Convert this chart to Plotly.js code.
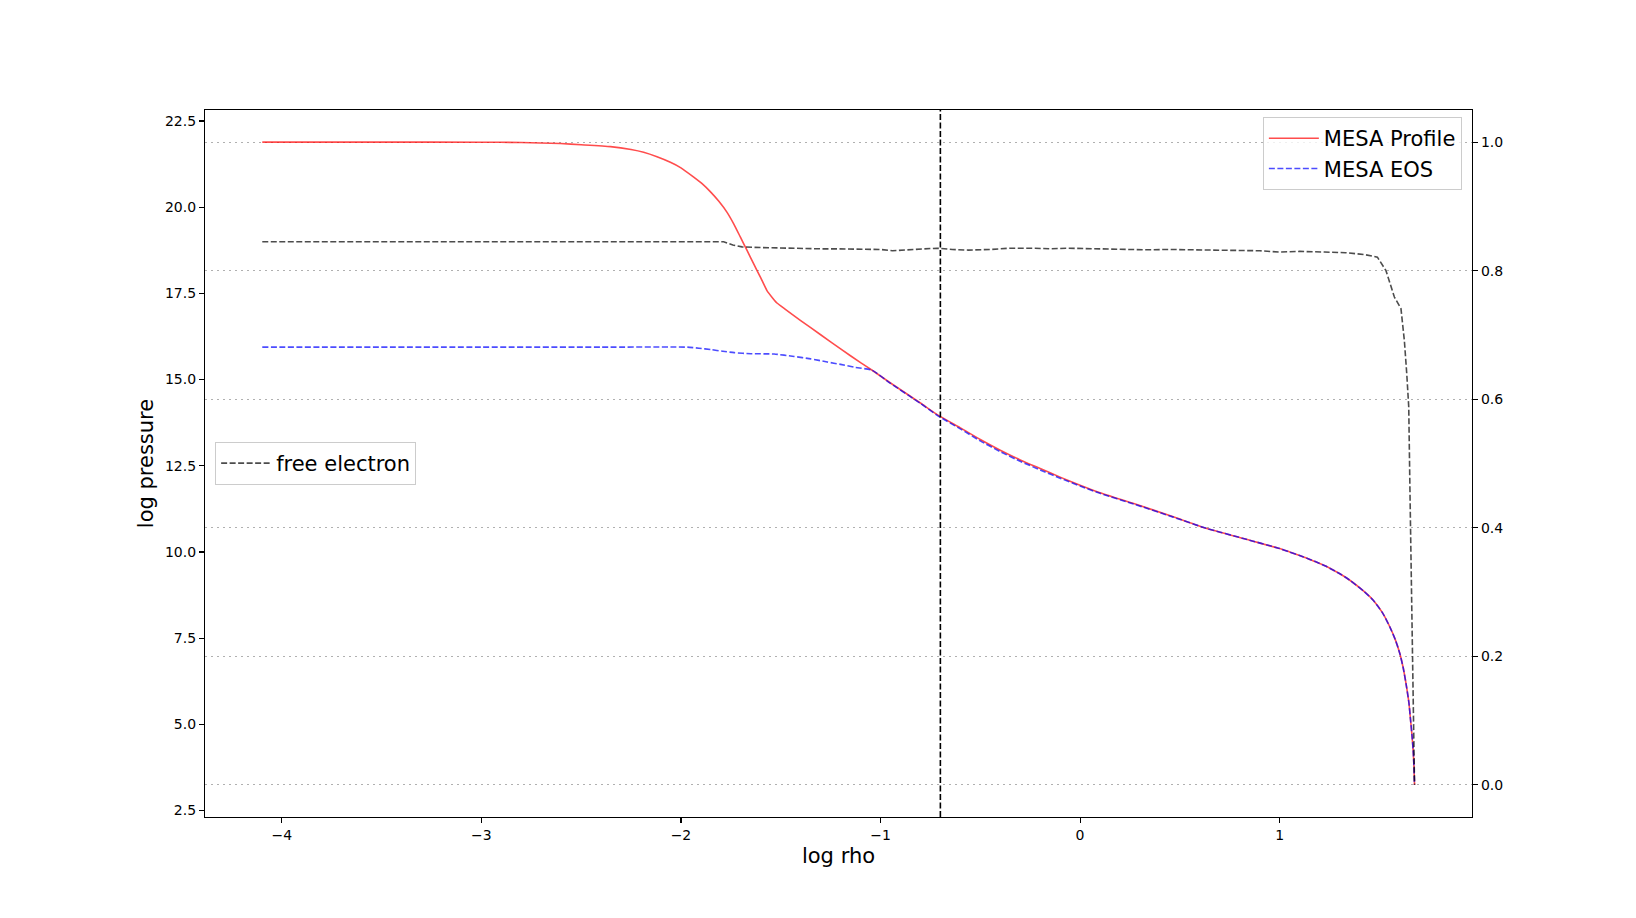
<!DOCTYPE html>
<html>
<head>
<meta charset="utf-8">
<script src="https://cdn.plot.ly/plotly-3.0.1.min.js"></script>
<style>
  html, body { margin: 0; padding: 0; background: #ffffff; }
  #chart { width: 1636px; height: 918px; }
</style>
</head>
<body>
<div id="chart"></div>
<script>
// MESA Profile: log rho vs log pressure
var profileLogRho = [-4.098, -3.5, -3.0, -2.8, -2.604, -2.5, -2.353, -2.25, -2.187, -2.12, -2.053, -2.0,
  -1.936, -1.89, -1.853, -1.81, -1.769, -1.735, -1.702, -1.67, -1.636, -1.6, -1.569, -1.54, -1.519,
  -1.48, -1.4, -1.3, -1.2, -1.1, -1.042, -0.95, -0.8, -0.71, -0.6, -0.5, -0.4, -0.3, -0.2, -0.1, 0.0,
  0.1, 0.269, 0.467, 0.636, 0.818, 1.0, 1.05, 1.1, 1.14, 1.184, 1.23, 1.27, 1.31, 1.352, 1.42, 1.469,
  1.515, 1.552, 1.58, 1.602, 1.62, 1.636, 1.648, 1.656, 1.663, 1.669, 1.673, 1.676];
var profileLogP = [21.886, 21.886, 21.884, 21.876, 21.845, 21.81, 21.755, 21.67, 21.59, 21.46, 21.30, 21.14,
  20.87, 20.66, 20.45, 20.17, 19.85, 19.51, 19.13, 18.76, 18.36, 17.95, 17.58, 17.36, 17.22,
  17.05, 16.71, 16.30, 15.89, 15.49, 15.27, 14.90, 14.32, 13.96, 13.60, 13.26, 12.95, 12.67, 12.42, 12.17, 11.935,
  11.72, 11.405, 11.02, 10.68, 10.39, 10.10, 10.00, 9.90, 9.81, 9.71, 9.59, 9.47, 9.34, 9.18, 8.87, 8.60,
  8.24, 7.83, 7.45, 7.06, 6.62, 6.09, 5.62, 5.13, 4.70, 4.26, 3.80, 3.245];

// MESA EOS: log rho vs log pressure
var eosLogRho = [-4.098, -3.0, -2.4, -1.967, -1.91, -1.85, -1.79, -1.733, -1.65, -1.533, -1.433, -1.35,
  -1.267, -1.2, -1.133, -1.042, -0.95, -0.8, -0.71, -0.6, -0.5, -0.4, -0.3, -0.2, -0.1, 0.0,
  0.1, 0.269, 0.467, 0.636, 0.818, 1.0, 1.05, 1.1, 1.14, 1.184, 1.23, 1.27, 1.31, 1.352, 1.42, 1.469,
  1.515, 1.552, 1.58, 1.602, 1.62, 1.636, 1.648, 1.656, 1.663, 1.669, 1.673, 1.676];
var eosLogP = [15.94, 15.94, 15.94, 15.94, 15.91, 15.87, 15.82, 15.78, 15.75, 15.74, 15.67, 15.60,
  15.51, 15.44, 15.36, 15.27, 14.89, 14.31, 13.94, 13.57, 13.22, 12.91, 12.63, 12.38, 12.14, 11.91,
  11.70, 11.39, 11.01, 10.68, 10.39, 10.10, 10.00, 9.90, 9.81, 9.71, 9.59, 9.47, 9.34, 9.18, 8.87, 8.60,
  8.24, 7.83, 7.45, 7.06, 6.62, 6.09, 5.62, 5.13, 4.70, 4.26, 3.80, 3.245];

// free electron fraction (right axis)
var freeLogRho = [-4.098, -2.5, -1.9, -1.786, -1.74, -1.694, -1.6, -1.5, -1.4, -1.3, -1.23, -1.1, -1.0,
  -0.94, -0.85, -0.717, -0.64, -0.56, -0.45, -0.35, -0.226, -0.15, -0.07, 0.05, 0.15, 0.332, 0.45,
  0.6, 0.779, 0.9, 1.0, 1.1, 1.225, 1.33, 1.426, 1.47, 1.49, 1.533, 1.575, 1.608, 1.625, 1.637,
  1.647, 1.653, 1.657, 1.662, 1.667, 1.671, 1.676];
var freeElectron = [0.845, 0.845, 0.845, 0.845, 0.840, 0.837, 0.836, 0.835, 0.835, 0.834, 0.834, 0.834, 0.833,
  0.831, 0.833, 0.835, 0.833, 0.832, 0.833, 0.835, 0.835, 0.834, 0.835, 0.834, 0.834, 0.8325, 0.833,
  0.832, 0.831, 0.831, 0.829, 0.830, 0.829, 0.828, 0.825, 0.823, 0.821, 0.800, 0.759, 0.741, 0.6915, 0.640,
  0.588, 0.46, 0.38, 0.28, 0.20, 0.10, 0.0];

var markerLogRho = -0.7;

var seriesNames = ['MESA Profile', 'MESA EOS', 'free electron'];

var font = "'DejaVu Sans', 'Liberation Sans', sans-serif";

var traces = [
  {
    x: profileLogRho, y: profileLogP, name: seriesNames[0], type: 'scatter', mode: 'lines',
    line: {color: 'rgba(255,0,0,0.7)', width: 1.6, shape: 'spline', smoothing: 0.5},
    xaxis: 'x', yaxis: 'y', legend: 'legend'
  },
  {
    x: eosLogRho, y: eosLogP, name: seriesNames[1], type: 'scatter', mode: 'lines',
    line: {color: 'rgba(0,0,255,0.7)', width: 1.6, dash: '6px,2.5px', shape: 'spline', smoothing: 0.5},
    xaxis: 'x', yaxis: 'y', legend: 'legend'
  },
  {
    x: freeLogRho, y: freeElectron, name: seriesNames[2], type: 'scatter', mode: 'lines',
    line: {color: 'rgba(0,0,0,0.7)', width: 1.6, dash: '6px,2.5px'}, xaxis: 'x', yaxis: 'y2', legend: 'legend2'
  }
];

var layout = {
  width: 1636, height: 918,
  paper_bgcolor: '#ffffff', plot_bgcolor: '#ffffff',
  margin: {l: 205, r: 164, t: 110, b: 101},
  font: {family: font, size: 14, color: '#000000'},
  showlegend: true,
  xaxis: {
    range: [-4.385, 1.964], tickmode: 'linear', tick0: -4, dtick: 1,
    showgrid: false, zeroline: false, showline: true, mirror: true,
    linecolor: '#000000', linewidth: 1.1, ticks: 'outside', ticklen: 5, tickwidth: 1.1, tickcolor: '#000000',
    tickfont: {family: font, size: 14, color: '#000000'},
    title: {text: 'log rho', font: {family: font, size: 21, color: '#000000'}, standoff: 6},
    automargin: false
  },
  yaxis: {
    range: [2.313, 22.818], tickmode: 'linear', tick0: 2.5, dtick: 2.5, tickformat: '.1f',
    showgrid: false, zeroline: false, showline: true, mirror: false,
    linecolor: '#000000', linewidth: 1.1, ticks: 'outside', ticklen: 5, tickwidth: 1.1, tickcolor: '#000000',
    tickfont: {family: font, size: 14, color: '#000000'},
    title: {text: 'log pressure', font: {family: font, size: 21, color: '#000000'}, standoff: 5},
    automargin: false
  },
  yaxis2: {
    overlaying: 'y', side: 'right', anchor: 'x',
    range: [-0.05, 1.05], tickmode: 'linear', tick0: 0, dtick: 0.2, tickformat: '.1f',
    showgrid: true, gridcolor: '#b0b0b0', gridwidth: 1.1, griddash: '2px,4px',
    zeroline: false, showline: true,
    linecolor: '#000000', linewidth: 1.1, ticks: 'outside', ticklen: 5, tickwidth: 1.1, tickcolor: '#000000',
    tickfont: {family: font, size: 14, color: '#000000'},
    automargin: false
  },
  legend: {
    x: 0.992, y: 0.99, xanchor: 'right', yanchor: 'top',
    bgcolor: 'rgba(255,255,255,0.8)', bordercolor: '#cccccc', borderwidth: 1,
    font: {family: font, size: 21, color: '#000000'}, itemwidth: 50
  },
  legend2: {
    x: 0.008, y: 0.5, xanchor: 'left', yanchor: 'middle',
    bgcolor: 'rgba(255,255,255,0.8)', bordercolor: '#cccccc', borderwidth: 1,
    font: {family: font, size: 21, color: '#000000'}, itemwidth: 50
  },
  shapes: [
    {
      type: 'line', xref: 'x', yref: 'paper', x0: markerLogRho, x1: markerLogRho, y0: 0, y1: 1,
      line: {color: '#000000', width: 1.6, dash: '6px,2.5px'}, layer: 'above'
    }
  ]
};

Plotly.newPlot('chart', traces, layout, {displayModeBar: false, staticPlot: true});
</script>
</body>
</html>
